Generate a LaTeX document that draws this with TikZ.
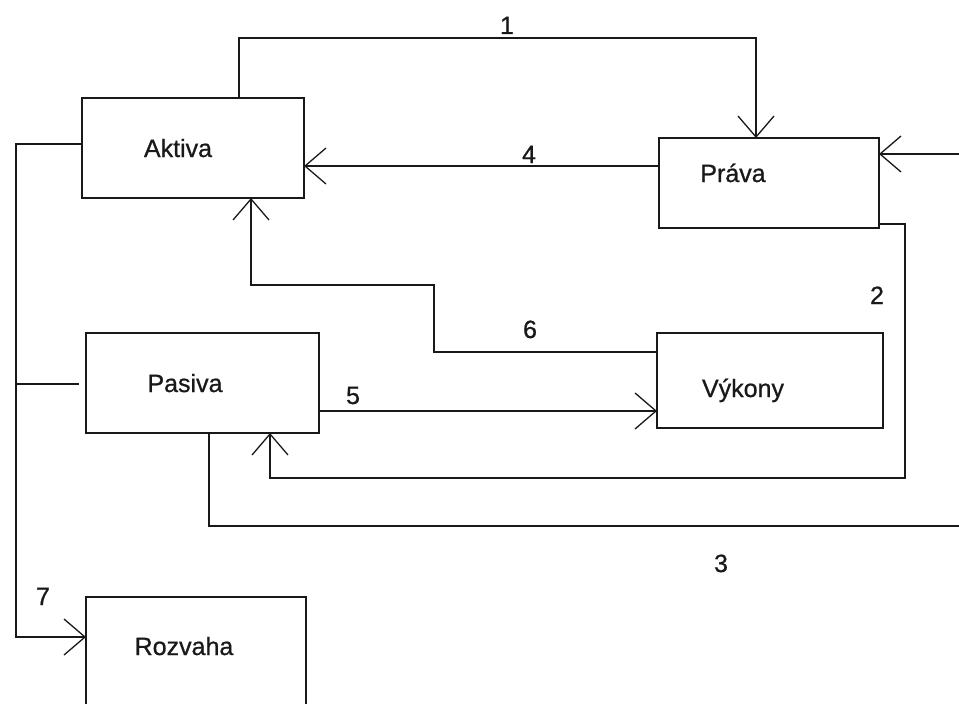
\documentclass[tikz,border=0pt]{standalone}
\usepackage{fontspec}
\setmainfont{Liberation Sans}
\newfontfamily\labelfont[FakeBold=0.8]{Liberation Sans}
\usetikzlibrary{arrows.meta}
\definecolor{ink}{RGB}{25,25,25}
\begin{document}
\begin{tikzpicture}[x=1pt,y=-1pt,
  box/.style={draw=ink, line width=1.7pt, inner sep=0pt, outer sep=0pt},
  lbl/.style={anchor=base, inner sep=0pt, text=ink, font=\labelfont\fontsize{25}{28}\selectfont},
  num/.style={anchor=base, inner sep=0pt, text=ink, font=\labelfont\fontsize{25}{28}\selectfont},
  conn/.style={draw=ink, line width=1.6pt},
  arr/.style={conn, -{Straight Barb[length=21pt, width=36pt, line width=1.3pt]}}]
\useasboundingbox (0,0) rectangle (959,704);
\clip (0,0) rectangle (959,704);
% boxes
\node[box, minimum width=222pt, minimum height=100pt] (aktiva) at (193,148) {};
\node[box, minimum width=220pt, minimum height=90pt] (prava) at (769,183) {};
\node[box, minimum width=233pt, minimum height=100pt] (pasiva) at (202.5,383) {};
\node[box, minimum width=226pt, minimum height=95pt] (vykony) at (770,380.5) {};
\node[box, minimum width=220pt, minimum height=132pt] (rozvaha) at (196,663) {};
% box labels
\node[lbl] (taktiva) at (178,157) {Aktiva};
\node[lbl] (tprava) at (733,182) {Práva};
\node[lbl] (tpasiva) at (185,392) {Pasiva};
\node[lbl] (tvykony) at (743,397) {Výkony};
\node[lbl] (trozvaha) at (184,655) {Rozvaha};
% helper coordinates
\coordinate (c1a) at (239,38);
\coordinate (c1b) at (756,38);
\coordinate (c6a) at (434,352);
\coordinate (c6b) at (434,285);
\coordinate (c6c) at (251,285);
\coordinate (c2a) at (905,224);
\coordinate (c2b) at (905,478);
\coordinate (c2c) at (270,478);
\coordinate (c3a) at (209,526);
\coordinate (c3b) at (961,526);
\coordinate (c3c) at (961,154);
\coordinate (c7a) at (16,144);
\coordinate (c7b) at (16,637);
\coordinate (c7c) at (16,384);
% connectors
\draw[arr] (aktiva.north -| c1a) -- (c1a) -- (c1b) -- (prava.north -| c1b);
\draw[arr] (prava.west |- 0,166) -- (aktiva.east |- 0,166);
\draw[arr] (vykony.west |- c6a) -- (c6a) -- (c6b) -- (c6c) -- (aktiva.south -| c6c);
\draw[arr] (pasiva.east |- 0,411) -- (vykony.west |- 0,411);
\draw[arr] (prava.east |- c2a) -- (c2a) -- (c2b) -- (c2c) -- (pasiva.south -| c2c);
\draw[arr] (pasiva.south -| c3a) -- (c3a) -- (c3b) -- (c3c) -- (prava.east |- c3c);
\draw[arr] (aktiva.west |- c7a) -- (c7a) -- (c7b) -- (rozvaha.west |- c7b);
\draw[conn, shorten <=7pt] (pasiva.west |- c7c) -- (c7c);
% numbers
\node[num] (n1) at (507,34) {1};
\node[num] (n4) at (529,163) {4};
\node[num] (n6) at (530,338) {6};
\node[num] (n5) at (353,404) {5};
\node[num] (n2) at (877,304) {2};
\node[num] (n3) at (721,572) {3};
\node[num] (n7) at (43,605) {7};
\end{tikzpicture}
\end{document}
